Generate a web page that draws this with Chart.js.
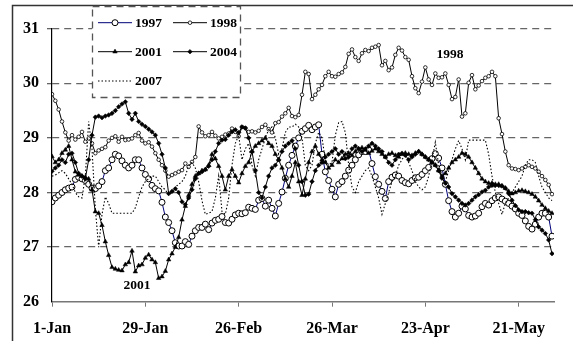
<!DOCTYPE html>
<html>
<head>
<meta charset="utf-8">
<script src="https://cdn.jsdelivr.net/npm/chart.js@4/dist/chart.umd.min.js"></script>
<style>
  html, body { margin: 0; padding: 0; background: #fff; }
  #wrap { width: 581px; height: 341px; position: relative; }
</style>
</head>
<body>
<div id="wrap"><canvas id="c" width="581" height="341"></canvas></div>
<script>
// Day index from 1 January (0) to 31 May (150)
const dayCount = 151;
const tickDays = [0, 28, 56, 84, 112, 140];
const tickLabels = ["1-Jan", "29-Jan", "26-Feb", "26-Mar", "23-Apr", "21-May"];
const yTicks = [26, 27, 28, 29, 30, 31];
const seriesNames = ["1997", "1998", "2001", "2004", "2007"];

const v1997 = [
  27.83,27.90,27.95,28.00,28.05,28.08,28.10,28.24,28.28,28.25,
  28.22,28.15,28.08,28.07,28.12,28.20,28.40,28.45,28.60,28.70,
  28.67,28.58,28.50,28.45,28.50,28.60,28.60,28.45,28.33,28.25,
  28.13,28.07,28.03,27.82,27.55,27.45,27.30,27.08,27.02,27.02,
  27.10,27.05,27.20,27.30,27.36,27.36,27.42,27.32,27.44,27.49,
  27.51,27.56,27.45,27.44,27.51,27.59,27.62,27.61,27.63,27.73,
  27.71,27.69,27.86,27.89,27.75,27.86,27.71,27.57,27.80,28.01,
  28.26,28.50,28.68,28.85,29.00,29.12,29.17,29.23,29.15,29.20,
  29.24,28.70,28.38,28.22,28.06,27.92,28.15,28.20,28.30,28.41,
  28.50,28.60,28.69,28.75,28.75,28.78,28.53,28.29,28.15,28.02,
  27.89,28.20,28.28,28.32,28.30,28.22,28.18,28.16,28.22,28.27,
  28.28,28.33,28.40,28.46,28.62,28.71,28.63,28.45,28.15,27.85,
  27.65,27.55,27.62,27.75,27.70,27.58,27.55,27.57,27.62,27.74,
  27.80,27.77,27.85,27.90,27.92,27.88,27.84,27.80,27.75,27.70,
  27.62,27.58,27.48,27.38,27.33,27.42,27.55,27.62,27.62,27.55,
  27.20
];
const v1998 = [
  29.80,29.68,29.52,29.30,29.10,28.95,29.05,28.97,29.02,29.11,
  28.93,28.99,28.90,28.72,28.77,28.80,28.83,28.95,29.00,29.03,
  28.93,29.02,28.96,28.97,28.99,29.05,29.09,28.95,28.90,28.92,
  28.84,28.72,28.60,28.50,28.40,28.29,28.32,28.35,28.38,28.41,
  28.53,28.47,28.56,28.65,29.21,29.10,29.03,29.05,29.11,29.04,
  28.99,29.02,29.06,29.08,29.17,29.11,29.03,29.20,29.18,29.11,
  29.12,29.10,29.13,29.20,29.24,29.16,29.10,29.27,29.29,29.39,
  29.45,29.55,29.40,29.38,29.42,29.79,30.21,30.17,29.71,29.79,
  29.89,29.97,30.13,30.21,30.13,30.12,30.17,30.20,30.30,30.54,
  30.62,30.48,30.41,30.55,30.61,30.59,30.65,30.67,30.70,30.33,
  30.41,30.24,30.29,30.52,30.65,30.60,30.48,30.43,30.13,29.91,
  29.82,30.03,30.29,30.07,29.97,30.18,30.10,30.11,30.18,29.97,
  29.71,29.75,30.07,29.39,29.45,30.01,30.15,29.89,29.96,30.04,
  30.10,30.13,30.21,30.13,29.36,29.07,28.75,28.50,28.44,28.43,
  28.41,28.44,28.47,28.50,28.47,28.44,28.38,28.30,28.23,28.14,
  27.97
];
const v2001 = [
  28.66,28.55,28.60,28.72,28.78,28.85,28.60,28.38,28.32,28.30,
  28.28,28.25,28.05,27.65,27.62,27.40,27.10,26.85,26.63,26.60,
  26.58,26.57,26.68,26.72,26.93,26.55,26.66,26.68,26.80,26.86,
  26.77,26.72,26.43,26.46,26.56,26.77,26.88,27.00,27.18,27.50,
  27.75,27.95,28.15,28.30,28.35,28.40,28.42,28.50,28.70,28.62,
  28.48,28.30,28.05,28.30,28.42,28.30,28.18,28.35,28.48,28.55,
  28.75,28.85,28.90,28.95,29.00,28.90,28.85,28.70,28.60,28.45,
  28.25,28.10,28.30,28.55,28.20,27.95,28.25,28.55,28.75,28.85,
  28.70,28.60,28.55,28.45,28.50,28.60,28.55,28.62,28.70,28.72,
  28.68,28.75,28.80,28.82,28.78,28.72,28.76,28.80,28.75,28.70,
  28.65,28.70,28.72,28.68,28.65,28.70,28.72,28.70,28.68,28.72,
  28.75,28.70,28.65,28.60,28.55,28.50,28.40,28.30,28.35,28.45,
  28.55,28.60,28.65,28.72,28.70,28.65,28.55,28.45,28.35,28.25,
  28.20,28.17,28.17,28.15,28.15,28.12,28.08,28.02,27.98,28.00,
  28.03,28.04,28.02,28.00,27.97,27.92,27.85,27.77,27.71,27.66,
  27.62
];
const v2004 = [
  28.39,28.45,28.50,28.60,28.55,28.70,28.72,28.55,28.35,28.30,
  28.25,28.60,29.05,29.38,29.40,29.37,29.40,29.42,29.45,29.50,
  29.57,29.62,29.66,29.45,29.34,29.45,29.30,29.25,29.21,29.16,
  29.11,29.05,28.90,28.70,28.45,27.98,28.02,28.07,28.00,27.83,
  27.78,27.90,28.05,28.25,28.35,28.38,28.42,28.48,28.60,28.75,
  28.90,28.96,28.97,29.05,29.11,29.15,29.10,29.20,29.18,29.00,
  28.75,28.40,28.00,27.90,28.10,28.30,28.45,28.50,28.60,28.75,
  28.85,28.90,28.95,28.80,28.50,28.20,27.95,27.97,28.20,28.40,
  28.50,28.55,28.65,28.70,28.75,28.80,28.70,28.75,28.62,28.65,
  28.80,28.85,28.80,28.75,28.80,28.85,28.90,28.85,28.80,28.75,
  28.65,28.55,28.50,28.60,28.70,28.72,28.68,28.60,28.65,28.70,
  28.75,28.70,28.65,28.60,28.55,28.50,28.40,28.26,28.17,28.10,
  27.98,27.92,27.86,27.80,27.77,27.80,27.86,27.92,27.96,28.01,
  28.04,28.10,28.13,28.13,28.13,28.12,28.08,27.98,27.86,27.76,
  27.68,27.65,27.65,27.63,27.62,27.50,27.37,27.31,27.25,27.13,
  26.88
];
const v2007 = [
  28.30,28.32,28.36,28.40,28.35,28.25,28.15,28.00,27.92,27.90,
  28.30,29.30,28.80,27.70,27.00,27.60,27.92,27.80,27.62,27.62,
  27.62,27.62,27.62,27.62,27.62,27.72,27.92,28.10,28.20,28.25,
  28.30,28.30,28.20,28.10,28.05,27.95,28.00,28.10,28.15,28.20,
  28.30,28.50,28.55,28.45,28.20,27.85,27.60,27.62,27.65,27.90,
  28.30,27.65,27.60,27.90,28.50,28.90,29.05,28.60,28.80,28.90,
  28.50,28.30,28.60,28.80,29.00,29.15,29.20,29.00,28.70,28.80,
  29.10,29.20,29.20,29.25,29.20,29.00,28.50,28.40,28.50,28.90,
  29.10,29.00,28.60,28.50,28.55,29.05,29.28,29.30,29.10,28.50,
  28.10,28.00,28.20,28.30,28.40,28.45,28.30,28.10,27.90,27.60,
  27.80,28.00,28.20,28.30,28.50,28.60,28.70,28.55,28.40,28.20,
  28.10,28.05,28.10,28.30,28.60,28.92,28.50,28.30,28.20,28.40,
  28.60,28.80,28.95,28.80,28.60,28.96,28.96,28.96,28.96,28.96,
  28.96,28.70,28.30,28.00,27.80,27.60,27.80,27.90,28.00,28.10,
  28.20,28.30,28.50,28.60,28.60,28.55,28.30,28.10,28.00,27.90,
  27.85
];

const SERIF = '"Liberation Serif", "Times New Roman", serif';
const toPoints = arr => arr.map((v, i) => ({ x: i, y: v }));

const styles = {
  "1997": { borderColor: '#00007a', borderWidth: 1, pointStyle: 'circle', pointRadius: 3.0, pointBackgroundColor: '#fff', pointBorderColor: '#000', pointBorderWidth: 1, order: 5 },
  "1998": { borderColor: '#000', borderWidth: 1, pointStyle: 'circle', pointRadius: 1.8, pointBackgroundColor: '#fff', pointBorderColor: '#000', pointBorderWidth: 0.8, order: 4 },
  "2001": { borderColor: '#000', borderWidth: 1, pointStyle: 'triangle', pointRadius: 2.6, pointBackgroundColor: '#000', pointBorderColor: '#000', pointBorderWidth: 0.5, order: 3 },
  "2004": { borderColor: '#000', borderWidth: 1, pointStyle: 'rectRot', pointRadius: 2.3, pointBackgroundColor: '#000', pointBorderColor: '#000', pointBorderWidth: 0.5, order: 2 },
  "2007": { borderColor: '#000', borderWidth: 1.1, borderDash: [1.5, 2], pointRadius: 0, order: 1 }
};
const values = { "1997": v1997, "1998": v1998, "2001": v2001, "2004": v2004, "2007": v2007 };

const datasets = seriesNames.map(name => Object.assign({
  label: name,
  data: toPoints(values[name]),
  tension: 0,
  fill: false
}, styles[name]));

// Frame, legend box and in-plot series labels
const decorations = {
  id: 'decorations',
  beforeDraw(chart) {
    const ctx = chart.ctx;
    ctx.save();
    ctx.fillStyle = '#fff';
    ctx.fillRect(0, 0, chart.width, chart.height);
    ctx.strokeStyle = '#333';
    ctx.lineWidth = 1.5;
    ctx.beginPath();
    ctx.moveTo(12.5, 341);
    ctx.lineTo(12.5, 5.5);
    ctx.lineTo(573, 5.5);
    ctx.stroke();
    ctx.restore();
  },
  afterDatasetsDraw(chart) {
    const ctx = chart.ctx;
    ctx.save();
    // legend box
    const bx = 92, by = 6, bw = 148, bh = 91;
    ctx.fillStyle = '#fff';
    ctx.fillRect(bx, by, bw, bh);
    ctx.strokeStyle = '#555';
    ctx.lineWidth = 1.3;
    ctx.setLineDash([7, 5]);
    ctx.strokeRect(bx + 0.5, by + 0.5, bw, bh);
    ctx.setLineDash([]);

    const entries = [
      { name: "1997", x: 98, y: 22.7 },
      { name: "1998", x: 173, y: 22.7 },
      { name: "2001", x: 98, y: 51.7 },
      { name: "2004", x: 173, y: 51.7 },
      { name: "2007", x: 98, y: 81 }
    ];
    ctx.font = 'bold 13.5px ' + SERIF;
    ctx.textBaseline = 'middle';
    ctx.textAlign = 'left';
    entries.forEach(e => {
      const s = styles[e.name];
      ctx.strokeStyle = s.borderColor;
      ctx.lineWidth = s.borderWidth;
      ctx.setLineDash(s.borderDash || []);
      ctx.beginPath();
      ctx.moveTo(e.x, e.y);
      ctx.lineTo(e.x + 34, e.y);
      ctx.stroke();
      ctx.setLineDash([]);
      if (s.pointRadius > 0) {
        ctx.fillStyle = s.pointBackgroundColor;
        ctx.strokeStyle = s.pointBorderColor;
        ctx.lineWidth = s.pointBorderWidth;
        Chart.helpers.drawPoint(ctx, { pointStyle: s.pointStyle, radius: s.pointRadius, borderWidth: s.pointBorderWidth, rotation: 0 }, e.x + 17, e.y);
      }
      ctx.fillStyle = '#000';
      ctx.fillText(e.name, e.x + 37, e.y + 0.5);
    });

    // labels placed next to their curves
    ctx.textAlign = 'center';
    ctx.fillText("2001", 137, 285.5);
    ctx.fillText("1998", 450, 55);
    ctx.restore();
  }
};

new Chart(document.getElementById('c'), {
  type: 'line',
  data: { datasets },
  options: {
    responsive: false,
    animation: false,
    events: [],
    parsing: true,
    layout: { padding: { left: 0, right: 27, top: 28.7, bottom: 0 } },
    plugins: { legend: { display: false }, tooltip: { enabled: false } },
    scales: {
      x: {
        type: 'linear',
        min: 0,
        max: 150.6,
        afterFit(scale) { scale.height = 39.3; },
        afterBuildTicks(scale) { scale.ticks = tickDays.map(v => ({ value: v })); },
        ticks: {
          autoSkip: false,
          maxRotation: 0,
          padding: 13,
          color: '#000',
          font: { family: SERIF, size: 16, weight: 'bold' },
          callback: (v) => tickLabels[tickDays.indexOf(v)]
        },
        grid: { drawOnChartArea: false, drawTicks: true, tickLength: 5, color: '#777', lineWidth: 1 },
        border: { display: true, color: '#777', width: 1.5 }
      },
      y: {
        min: 26,
        max: 31,
        afterFit(scale) { scale.width = 52; },
        afterBuildTicks(scale) { scale.ticks = yTicks.map(v => ({ value: v })); },
        ticks: {
          padding: 8,
          color: '#000',
          font: { family: SERIF, size: 16, weight: 'bold' }
        },
        grid: {
          drawOnChartArea: true,
          drawTicks: true,
          tickLength: 5,
          color: ctx => (ctx.tick && ctx.tick.value === 26) ? 'rgba(0,0,0,0)' : '#666',
          lineWidth: 1.3
        },
        border: { display: true, color: '#000', width: 1.2, dash: [7, 5] }
      }
    }
  },
  plugins: [decorations]
});
</script>
</body>
</html>
